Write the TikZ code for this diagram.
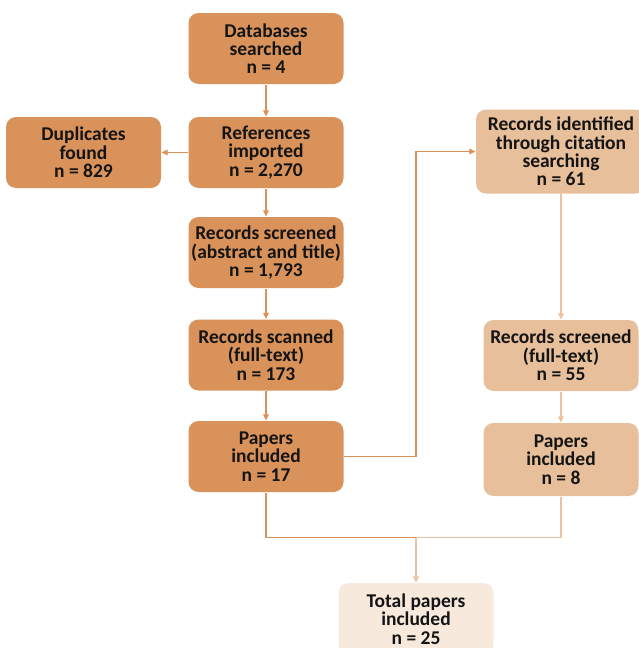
\documentclass[tikz,border=0pt]{standalone}
\usepackage{fontspec}
\setmainfont{Carlito}
\usetikzlibrary{arrows.meta}
\definecolor{darkorange}{RGB}{218,146,91}
\definecolor{midorange}{RGB}{232,191,155}
\definecolor{paleorange}{RGB}{247,234,221}
\definecolor{darkline}{RGB}{219,145,88}
\definecolor{lightline}{RGB}{234,194,160}
\definecolor{boxtext}{RGB}{20,20,20}

\begin{document}
\begin{tikzpicture}[x=1pt, y=-1pt, line width=1.1pt, >={Triangle[length=6pt,width=5.5pt]},
  stage/.style={rounded corners=10pt, minimum width=155pt, minimum height=71pt, inner sep=0pt,
    align=center, text=boxtext, font=\bfseries\fontsize{19.5}{18.3}\selectfont,
    execute at begin node={\rule{0pt}{23pt}}},
  mainstage/.style={stage, fill=darkorange},
  sidestage/.style={stage, fill=midorange},
  totalstage/.style={stage, fill=paleorange}]
  \useasboundingbox (0,0) rectangle (639,648);
  % database search column
  \node[mainstage] (db) at (266,48.5) {Databases\\searched\\n = 4};
  \node[mainstage] (refs) at (266,152.5) {References\\imported\\n = 2,270};
  \node[mainstage] (dup) at (83.5,152.5) {Duplicates\\found\\n = 829};
  \node[mainstage] (screen) at (266,252.5) {Records screened\\(abstract and title)\\n = 1,793};
  \node[mainstage] (scan) at (266,355) {Records scanned\\(full-text)\\n = 173};
  \node[mainstage] (incl) at (266,456.5) {Papers\\included\\n = 17};
  % citation search column
  \node[sidestage, minimum width=170pt, minimum height=84pt] (cite) at (561,151.5) {Records identified\\through citation\\searching\\n = 61};
  \node[sidestage] (citescreen) at (561,355.5) {Records screened\\(full-text)\\n = 55};
  \node[sidestage, minimum height=73pt] (citeincl) at (561,459.5) {Papers\\included\\n = 8};
  % result (runs off the bottom edge)
  \node[totalstage, minimum height=72pt] (total) at (416,619) {Total papers\\included\\n = 25};
  \coordinate (merge) at (416,537.5);
  % connectors
  \draw[->, darkline] (db) -- (refs);
  \draw[->, darkline] (refs) -- (dup);
  \draw[->, darkline] (refs) -- (screen);
  \draw[->, darkline] (screen) -- (scan);
  \draw[->, darkline] (scan) -- (incl);
  \draw[->, darkline] (incl.east) -- (merge |- incl.east) |- (cite.west);
  \draw[->, lightline] (cite) -- (citescreen);
  \draw[->, lightline] (citescreen) -- (citeincl);
  \draw[darkline] (incl.south) |- (merge);
  \draw[lightline] (citeincl.south) |- (merge);
  \draw[->, lightline] (merge) -- (total.north);
\end{tikzpicture}
\end{document}
